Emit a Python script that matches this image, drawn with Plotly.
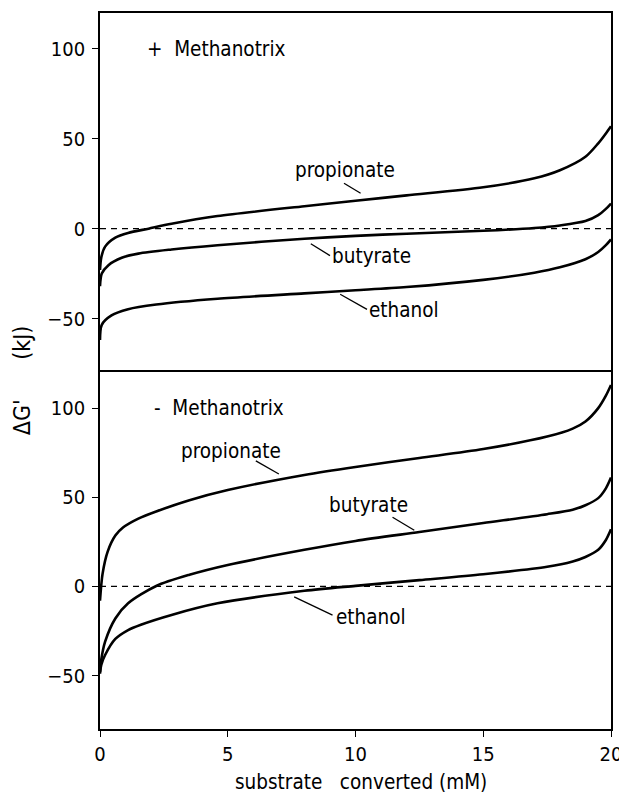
import plotly.graph_objects as go
from plotly.subplots import make_subplots

# ---- data: + Methanotrix (top panel) ----
top_propionate_x = [0, 0.05, 0.2, 0.6, 1.1, 1.9, 2.8, 4.6, 8, 10, 12, 15, 17, 18, 19, 19.5, 19.8, 20]
top_propionate_y = [-23, -16, -10, -5, -2.4, 0, 2.7, 7, 12.5, 15.5, 18.5, 23, 28, 32.5, 40, 47.5, 53, 57]
top_butyrate_x = [0, 0.07, 0.33, 0.85, 1.5, 2.8, 4.6, 8, 10, 12, 15, 17, 18, 19, 19.5, 19.8, 20]
top_butyrate_y = [-32, -25, -20.3, -16.2, -13.9, -11.6, -9.2, -5.6, -4, -2.8, -1.2, 0.4, 1.8, 4.2, 7.5, 11, 14]
top_ethanol_x = [0, 0.07, 0.45, 1.1, 2.2, 4.6, 8, 10, 12, 15, 17, 18, 19, 19.5, 19.8, 20]
top_ethanol_y = [-62, -53.5, -48.3, -44.8, -42.2, -39, -36, -34.3, -32.5, -28.5, -24.5, -21.5, -17, -13, -9.2, -6]

# ---- data: - Methanotrix (bottom panel) ----
bot_propionate_x = [0, 0.1, 0.3, 0.6, 0.9, 1.5, 2.2, 3.5, 5, 8, 10, 12.5, 15, 17.5, 18.5, 19, 19.5, 19.8, 20]
bot_propionate_y = [-8, 7, 19.5, 28.5, 33, 38, 42, 48.3, 54, 62.5, 67, 72, 77, 84, 88.5, 92.5, 100, 107, 113]
bot_butyrate_x = [0, 0.05, 0.2, 0.6, 1.1, 2.2, 3.5, 5, 8, 10, 12.5, 15, 17.5, 18.5, 19, 19.5, 19.8, 20]
bot_butyrate_y = [-48, -41, -31, -18, -9.5, 0.2, 6.5, 12, 20.5, 25.5, 30.5, 35.5, 40.5, 43, 45.5, 49.5, 55, 61]
bot_ethanol_x = [0, 0.05, 0.2, 0.6, 1.1, 1.6, 2.8, 4.6, 8, 10, 12.5, 15, 17.5, 18.5, 19, 19.5, 19.8, 20]
bot_ethanol_y = [-49, -44, -38.5, -29.5, -24.5, -21.5, -16, -9.5, -2.5, 0.3, 3.5, 6.8, 11, 14, 16.5, 20.5, 26, 32]

x_ticks = [0, 5, 10, 15, 20]
y_ticks = [-50, 0, 50, 100]

# labels: (text, x, y) and leader lines (x0, y0, x1, y1) in data units
top_labels = [("propionate", 7.55, 32.5), ("butyrate", 9.0, -15), ("ethanol", 10.45, -45.5)]
top_leaders = [(9.55, 25.3, 10.2, 19.7), (8.25, -8.4, 9.0, -15), (9.4, -36.5, 10.45, -44.9)]
bot_labels = [("propionate", 3.1, 76), ("butyrate", 8.9, 45.5), ("ethanol", 9.15, -17)]
bot_leaders = [(6.1, 70.4, 7.0, 63), (11.45, 38.8, 12.3, 31.5), (7.6, -5.9, 9.1, -16.1)]

FONT = "DejaVu Sans Condensed, Liberation Sans Narrow, DejaVu Sans"

fig = make_subplots(rows=2, cols=1, shared_xaxes=True, vertical_spacing=0)

line = dict(color="black", width=2.6, shape="spline", smoothing=0.8)
for xs, ys in ((top_propionate_x, top_propionate_y), (top_butyrate_x, top_butyrate_y),
               (top_ethanol_x, top_ethanol_y)):
    fig.add_trace(go.Scatter(x=xs, y=ys, mode="lines", line=line, showlegend=False), row=1, col=1)
for xs, ys in ((bot_propionate_x, bot_propionate_y), (bot_butyrate_x, bot_butyrate_y),
               (bot_ethanol_x, bot_ethanol_y)):
    fig.add_trace(go.Scatter(x=xs, y=ys, mode="lines", line=line, showlegend=False), row=2, col=1)

# dashed zero lines
for r in (1, 2):
    fig.add_trace(go.Scatter(x=[0, 20], y=[0, 0], mode="lines",
                             line=dict(color="black", width=1.4, dash="6px,5px"),
                             showlegend=False), row=r, col=1)

ann_font = dict(family=FONT, size=20.5, color="black")
for (t, x, y) in top_labels:
    fig.add_annotation(x=x, y=y, text=t, xref="x", yref="y", showarrow=False,
                       xanchor="left", yanchor="middle", font=ann_font)
for (t, x, y) in bot_labels:
    fig.add_annotation(x=x, y=y, text=t, xref="x2", yref="y2", showarrow=False,
                       xanchor="left", yanchor="middle", font=ann_font)
for (x0, y0, x1, y1) in top_leaders:
    fig.add_shape(type="line", x0=x0, y0=y0, x1=x1, y1=y1, xref="x", yref="y",
                  line=dict(color="black", width=1.3))
for (x0, y0, x1, y1) in bot_leaders:
    fig.add_shape(type="line", x0=x0, y0=y0, x1=x1, y1=y1, xref="x2", yref="y2",
                  line=dict(color="black", width=1.3))

fig.add_annotation(x=1.75, y=100, text="+\u00a0 Methanotrix", xref="x", yref="y", showarrow=False,
                   xanchor="left", yanchor="middle", font=ann_font)
fig.add_annotation(x=2.05, y=100, text="-\u00a0 Methanotrix", xref="x2", yref="y2", showarrow=False,
                   xanchor="left", yanchor="middle", font=ann_font)

# axis titles
fig.add_annotation(x=-0.153, y=0.487, xref="paper", yref="paper",
                   text="\u0394G'\u00a0\u00a0\u00a0\u00a0\u00a0\u00a0(kJ)",
                   textangle=-90, showarrow=False, font=dict(family=FONT, size=23, color="black"),
                   xanchor="center", yanchor="middle")
fig.add_annotation(x=0.51, y=-0.074, xref="paper", yref="paper",
                   text="substrate\u00a0\u00a0 converted (mM)",
                   showarrow=False, font=ann_font, xanchor="center", yanchor="middle")

axis_common = dict(showgrid=False, zeroline=False, showline=True, linecolor="black",
                   linewidth=1.6, ticks="outside", ticklen=6, tickwidth=1.3, automargin=False,
                   tickcolor="black", tickfont=dict(family=FONT, size=20, color="black"))

fig.update_xaxes(range=[0, 20], tickvals=x_ticks, **axis_common)
# top panel: only its top border (middle border drawn by bottom panel's mirror)
fig.update_xaxes(showticklabels=False, ticks="", side="top", mirror=False, row=1, col=1)
fig.update_xaxes(mirror=True, row=2, col=1)
fig.update_yaxes(range=[-80, 120], tickvals=y_ticks, mirror=True, ticklabelstandoff=3,
                 **axis_common)
fig.update_layout(yaxis=dict(domain=[0.498, 1]), yaxis2=dict(domain=[0, 0.498]))

# the page body adds an 8px margin, so the figure is sized to fit inside the window
fig.update_layout(width=619, height=789, margin=dict(l=92, r=16, t=5, b=68, autoexpand=False),
                  paper_bgcolor="white", plot_bgcolor="white",
                  font=dict(family=FONT, color="black"))

fig.write_html("out.html")
